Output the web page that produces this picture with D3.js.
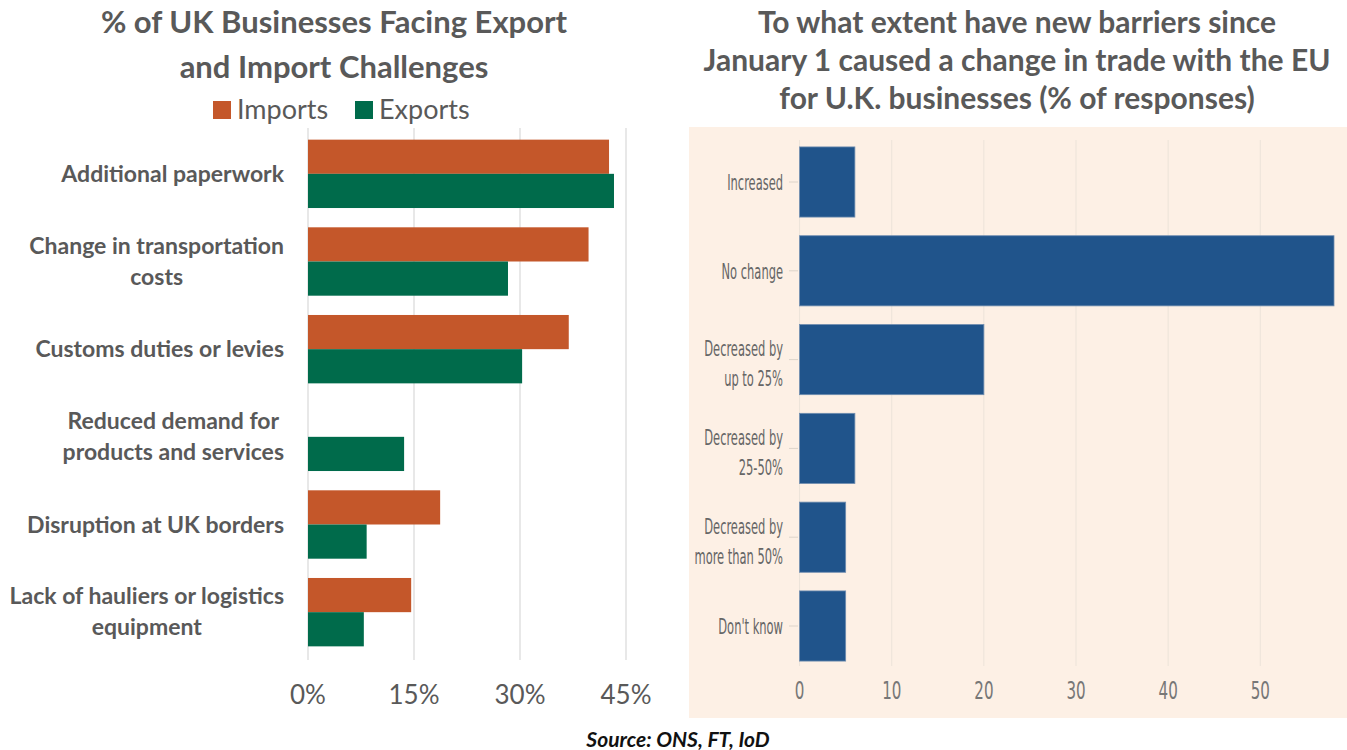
<!DOCTYPE html>
<html>
<head>
<meta charset="utf-8">
<script src="https://cdn.jsdelivr.net/npm/d3@7"></script>
<style>
  body { margin: 0; background: #fff; }
  svg { display: block; }
</style>
</head>
<body>
<svg id="chart"></svg>
<script>
// left chart: challenges faced (% of businesses)
var challenges = [
    "Additional paperwork",
    "Change in transportation\ncosts",
    "Customs duties or levies",
    "Reduced demand for\nproducts and services",
    "Disruption at UK borders",
    "Lack of hauliers or logistics\nequipment"
];
var importValues = [42.6, 39.7, 36.9, null, 18.7, 14.6];
var exportValues = [43.3, 28.3, 30.3, 13.6, 8.3, 7.9];
var pctTicks = [0, 15, 30, 45];
var seriesNames = ["Imports", "Exports"];

// right chart: change in trade with the EU (% of responses)
var changeCategories = [
    "Increased",
    "No change",
    "Decreased by\nup to 25%",
    "Decreased by\n25-50%",
    "Decreased by\nmore than 50%",
    "Don't know"
];
var changeValues = [6, 58, 20, 6, 5, 5];
var responseTicks = [0, 10, 20, 30, 40, 50];

var width = 1347, height = 750;
var grey = "#595959";
var colors = { Imports: "#c4572a", Exports: "#006b4b" };
var leftFont = "Lato, 'Open Sans', sans-serif";
var narrowFont = "'Liberation Sans Narrow', 'DejaVu Sans Condensed', sans-serif";
// the FT labels are tall and very condensed
var labelSqueeze = 0.58;
var tickSqueeze = 0.7;

var svg = d3.select("#chart")
    .attr("width", width)
    .attr("height", height)
    .style("font-family", leftFont);

// ---------- left panel ----------
var x1 = d3.scaleLinear().domain([0, 45]).range([308, 626]);
var y1 = d3.scaleBand().domain(challenges).range([130, 656])
    .paddingInner(0.22).paddingOuter(0.11);
var ySub = d3.scaleBand().domain(seriesNames).range([0, y1.bandwidth()]);

var left = svg.append("g");

left.append("g")
    .selectAll("line")
    .data(pctTicks)
    .join("line")
    .attr("x1", d => x1(d)).attr("x2", d => x1(d))
    .attr("y1", 128).attr("y2", 660)
    .attr("stroke", "#d9d9d9")
    .attr("stroke-width", 1.2);

var rows = challenges.map((c, i) => ({
    cat: c,
    values: [
        {series: "Imports", value: importValues[i]},
        {series: "Exports", value: exportValues[i]}
    ]
}));

left.append("g")
    .selectAll("g")
    .data(rows)
    .join("g")
    .attr("transform", d => `translate(0,${y1(d.cat)})`)
    .selectAll("rect")
    .data(d => d.values.filter(v => v.value != null))
    .join("rect")
    .attr("x", x1(0))
    .attr("y", d => ySub(d.series))
    .attr("width", d => x1(d.value) - x1(0))
    .attr("height", ySub.bandwidth())
    .attr("fill", d => colors[d.series]);

// category labels: block right-aligned, lines centred on each other
var catLabels = left.append("g")
    .selectAll("text")
    .data(challenges)
    .join("text")
    .attr("text-anchor", "middle")
    .style("font-size", "23px")
    .style("font-weight", "bold")
    .style("fill", grey);

catLabels.selectAll("tspan")
    .data(d => {
        var lines = d.split("\n");
        var c = y1(d) + y1.bandwidth() / 2;
        return lines.map((t, i) => ({t: t, y: lines.length > 1 ? c + (i ? 15 : -16) : c}));
    })
    .join("tspan")
    .attr("y", d => d.y)
    .attr("dy", "0.35em")
    .text(d => d.t);

catLabels.each(function() {
    var w = d3.max(d3.select(this).selectAll("tspan").nodes(), n => n.getComputedTextLength());
    d3.select(this).selectAll("tspan").attr("x", 284 - w / 2);
});

left.append("g")
    .selectAll("text")
    .data(pctTicks)
    .join("text")
    .attr("x", d => x1(d))
    .attr("y", 695)
    .attr("dy", "0.35em")
    .attr("text-anchor", "middle")
    .style("font-size", "26px")
    .style("fill", grey)
    .text(d => d + "%");

left.append("text")
    .attr("text-anchor", "middle")
    .style("font-size", "31px")
    .style("font-weight", "bold")
    .style("fill", grey)
    .selectAll("tspan")
    .data(["% of UK Businesses Facing Export", "and Import Challenges"])
    .join("tspan")
    .attr("x", 334)
    .attr("y", (d, i) => 22 + i * 45)
    .attr("dy", "0.35em")
    .text(d => d);

// legend
var legend = left.append("g")
    .selectAll("g")
    .data(seriesNames)
    .join("g")
    .attr("transform", (d, i) => `translate(${213 + i * 142},110)`);
legend.append("rect")
    .attr("x", 0).attr("y", -9)
    .attr("width", 18).attr("height", 18)
    .attr("fill", d => colors[d]);
legend.append("text")
    .attr("x", 24)
    .attr("dy", "0.35em")
    .style("font-size", "27px")
    .style("fill", grey)
    .text(d => d);

// ---------- right panel ----------
var right = svg.append("g");

right.append("rect")
    .attr("x", 689).attr("y", 127)
    .attr("width", width - 689).attr("height", 591)
    .attr("fill", "#fdf0e5");

var x2 = d3.scaleLinear().domain([0, 58]).range([799.6, 1334]);
var y2 = d3.scaleBand().domain(changeCategories).range([137.6, 670.4])
    .paddingInner(0.21).paddingOuter(0.105);

right.append("g")
    .selectAll("line")
    .data(responseTicks)
    .join("line")
    .attr("x1", d => x2(d)).attr("x2", d => x2(d))
    .attr("y1", 140).attr("y2", 666)
    .attr("stroke", "#ece3d9")
    .attr("stroke-width", 1);

right.append("g")
    .selectAll("line")
    .data(changeCategories)
    .join("line")
    .attr("x1", 789).attr("x2", 798)
    .attr("y1", d => y2(d) + y2.bandwidth() / 2)
    .attr("y2", d => y2(d) + y2.bandwidth() / 2)
    .attr("stroke", "#ddd4ca");

right.append("g")
    .selectAll("rect")
    .data(changeCategories.map((c, i) => ({cat: c, value: changeValues[i]})))
    .join("rect")
    .attr("x", x2(0))
    .attr("y", d => y2(d.cat))
    .attr("width", d => x2(d.value) - x2(0))
    .attr("height", y2.bandwidth())
    .attr("fill", "#20548b")
    .attr("stroke", "#6f8db0")
    .attr("stroke-width", 0.8);

var changeLabels = right.append("g")
    .selectAll("text")
    .data(changeCategories)
    .join("text")
    .attr("transform", d => `translate(783,${y2(d) + y2.bandwidth() / 2}) scale(${labelSqueeze},1)`)
    .attr("text-anchor", "end")
    .style("font-family", narrowFont)
    .style("font-size", "22px")
    .style("fill", "#666");

changeLabels.selectAll("tspan")
    .data(d => {
        var lines = d.split("\n");
        return lines.map((t, i) => ({t: t, y: lines.length > 1 ? (i ? 19 : -11) : 0}));
    })
    .join("tspan")
    .attr("x", 0)
    .attr("y", d => d.y)
    .attr("dy", "0.35em")
    .text(d => d.t);

right.append("g")
    .selectAll("text")
    .data(responseTicks)
    .join("text")
    .attr("transform", d => `translate(${x2(d)},691) scale(${tickSqueeze},1)`)
    .attr("dy", "0.35em")
    .attr("text-anchor", "middle")
    .style("font-family", narrowFont)
    .style("font-size", "24px")
    .style("fill", "#777")
    .text(d => d);

right.append("text")
    .attr("text-anchor", "middle")
    .style("font-size", "30px")
    .style("font-weight", "bold")
    .style("fill", grey)
    .selectAll("tspan")
    .data(["To what extent have new barriers since",
           "January 1 caused a change in trade with the EU",
           "for U.K. businesses (% of responses)"])
    .join("tspan")
    .attr("x", 1017)
    .attr("y", (d, i) => 22 + i * 38)
    .attr("dy", "0.35em")
    .text(d => d);

// source
svg.append("text")
    .attr("x", 678)
    .attr("y", 740)
    .attr("dy", "0.35em")
    .attr("text-anchor", "middle")
    .style("font-size", "21px")
    .style("font-weight", "bold")
    .style("font-style", "italic")
    .style("fill", "#111")
    .text("Source: ONS, FT, IoD");
</script>
</body>
</html>
